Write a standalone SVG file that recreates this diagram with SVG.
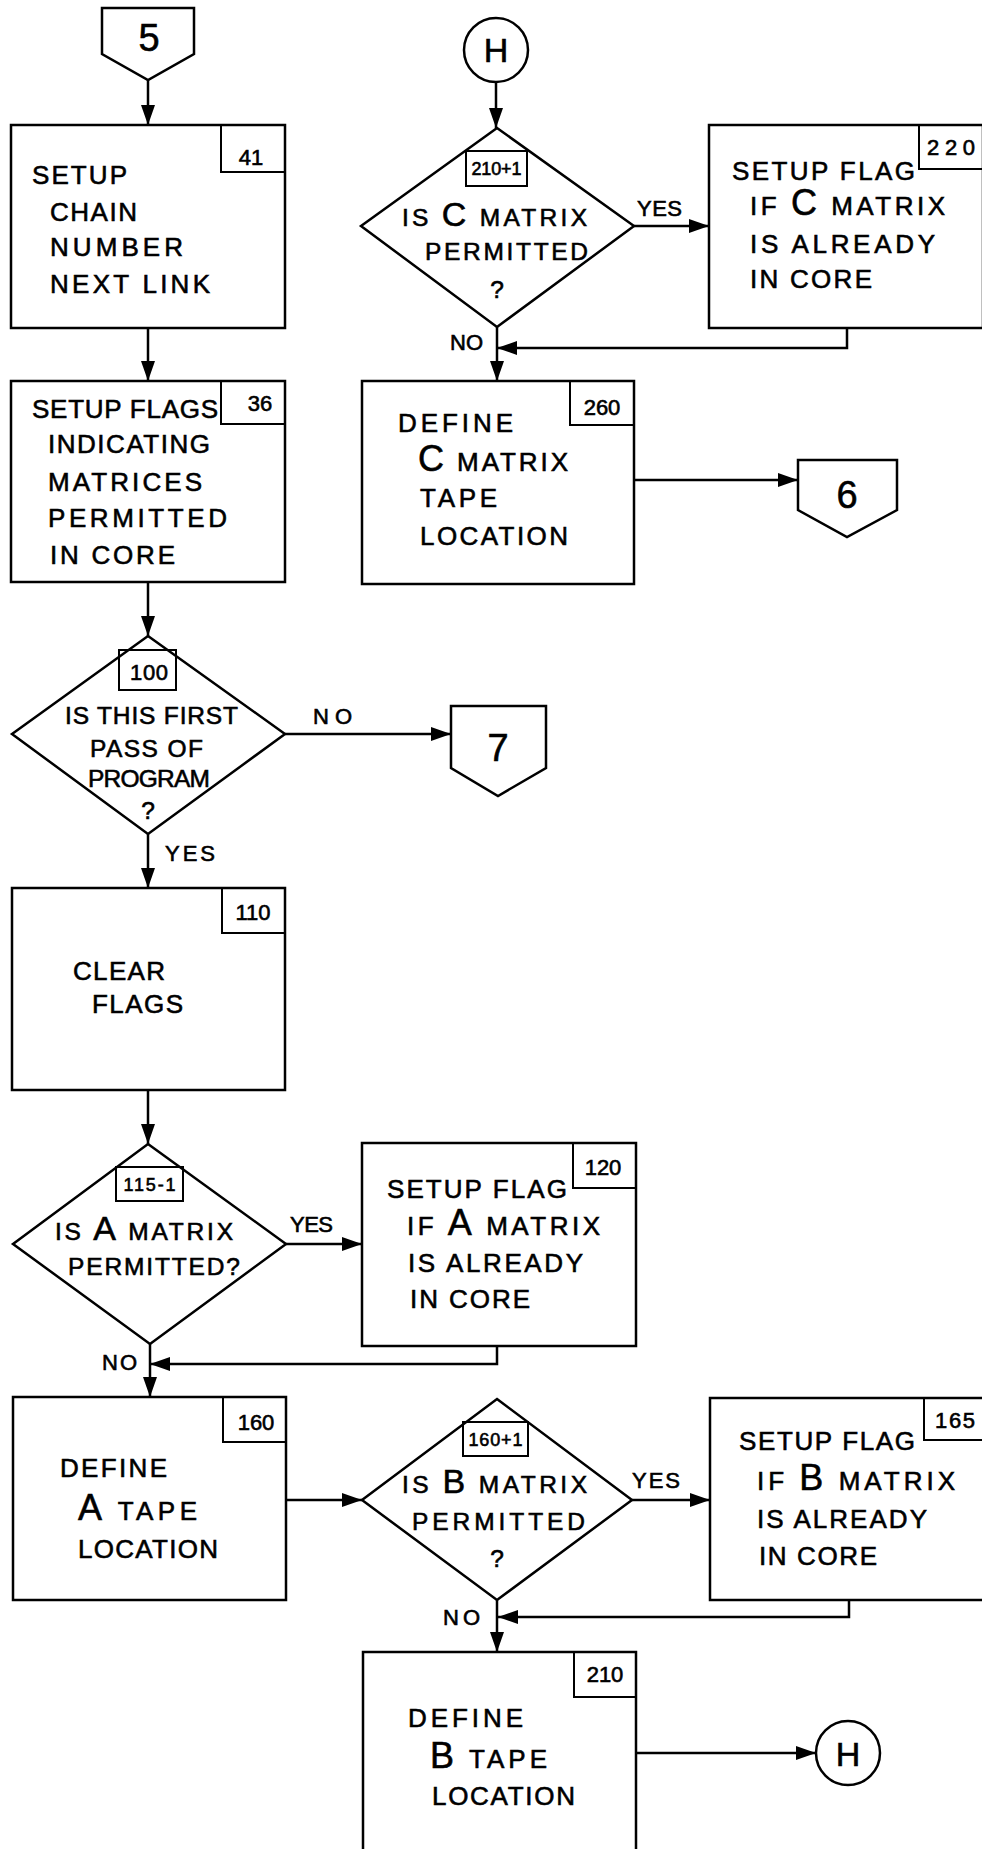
<svg xmlns="http://www.w3.org/2000/svg" width="982" height="1849" viewBox="0 0 982 1849">
<style>
.b{fill:none;stroke:#000;stroke-width:2.5}
.n{fill:none;stroke:#000;stroke-width:2}
text{font-family:"Liberation Sans",Arial,sans-serif;font-size:26px;fill:#000;stroke:#000;stroke-width:0.6}
.d{font-size:24.5px}
.yn{font-size:22px}
.num{font-size:22px;text-anchor:middle}
.sn{font-size:18px}
.big{font-size:36px}
.bigd{font-size:34px}
.con{font-size:38px;text-anchor:middle}
.m{text-anchor:middle}
.c{fill:none;stroke:#000;stroke-width:2.5;marker-end:url(#ah)}
</style>
<defs>
<marker id="ah" markerUnits="userSpaceOnUse" markerWidth="20" markerHeight="14" refX="20" refY="7" orient="auto"><path d="M0,0 L20,7 L0,14 z" fill="#000"/></marker>
</defs>
<rect x="0" y="0" width="982" height="1849" fill="#fff"/>

<g id="connectors">
<path class="c" d="M148,80 V125"/>
<path class="c" d="M148,328 V381"/>
<path class="c" d="M148,582 V636"/>
<path class="c" d="M285,734 H451"/>
<path class="c" d="M148,834 V888"/>
<path class="c" d="M148,1090 V1144"/>
<path class="c" d="M286,1244 H362"/>
<path class="c" d="M497,1346 V1364 H150"/>
<path class="c" d="M150,1344 V1397"/>
<path class="c" d="M286,1500 H362"/>
<path class="c" d="M632,1500 H710"/>
<path class="c" d="M849,1600 V1617 H498"/>
<path class="c" d="M497,1600 V1652"/>
<path class="c" d="M636,1753 H816"/>
<path class="c" d="M496,82 V128"/>
<path class="c" d="M634,226 H709"/>
<path class="c" d="M847,328 V348 H497"/>
<path class="c" d="M497,327 V381"/>
<path class="c" d="M634,480 H798"/>
<text class="yn" x="313" y="724" textLength="39">NO</text>
<text class="yn" x="165" y="861" textLength="50">YES</text>
<text class="yn" x="290" y="1232" textLength="43">YES</text>
<text class="yn" x="102" y="1370" textLength="35">NO</text>
<text class="yn" x="632" y="1488" textLength="48">YES</text>
<text class="yn" x="443" y="1625" textLength="37">NO</text>
<text class="yn" x="637" y="216" textLength="45">YES</text>
<text class="yn" x="450" y="350" textLength="33">NO</text>
</g>

<g id="conn5">
<polygon class="b" points="102,8 194,8 194,54 148,80 102,54"/>
<text class="con" x="149" y="51">5</text>
</g>

<g id="box41">
<rect class="b" x="11" y="125" width="274" height="203"/>
<rect class="n" x="221" y="125" width="64" height="47"/>
<text class="num" x="251" y="165">41</text>
<text x="32" y="184" textLength="95">SETUP</text>
<text x="50" y="221" textLength="87">CHAIN</text>
<text x="50" y="256" textLength="133">NUMBER</text>
<text x="50" y="293" textLength="160">NEXT LINK</text>
</g>

<g id="box36">
<rect class="b" x="11" y="381" width="274" height="201"/>
<rect class="n" x="221" y="381" width="64" height="43"/>
<text class="num" x="260" y="411">36</text>
<text x="32" y="418" textLength="186">SETUP FLAGS</text>
<text x="48" y="453" textLength="162">INDICATING</text>
<text x="48" y="491" textLength="154">MATRICES</text>
<text x="48" y="527" textLength="179">PERMITTED</text>
<text x="50" y="564" textLength="125">IN CORE</text>
</g>

<g id="dec100">
<polygon class="b" points="148,636 285,734 148,834 12,734"/>
<rect class="n" x="119" y="650" width="57" height="40"/>
<text class="num" x="149" y="680" textLength="38">100</text>
<text class="d" x="65" y="724" textLength="173">IS THIS FIRST</text>
<text class="d" x="90" y="757" textLength="113">PASS OF</text>
<text class="d" x="88" y="787" textLength="122">PROGRAM</text>
<text class="d m" x="148" y="819">?</text>
</g>

<g id="conn7">
<polygon class="b" points="451,706 546,706 546,768 498,796 451,768"/>
<text class="con" x="498" y="761">7</text>
</g>

<g id="box110">
<rect class="b" x="12" y="888" width="273" height="202"/>
<rect class="n" x="222" y="888" width="63" height="45"/>
<text class="num" x="253" y="920">110</text>
<text x="73" y="980" textLength="92">CLEAR</text>
<text x="92" y="1013" textLength="91">FLAGS</text>
</g>

<g id="dec115">
<polygon class="b" points="148,1144 286,1244 150,1344 13,1244"/>
<rect class="n" x="116" y="1167" width="67" height="34"/>
<text class="num sn" x="149.5" y="1191" textLength="52">115-1</text>
<text class="d" x="55" y="1240" textLength="178">IS <tspan class="bigd">A</tspan> MATRIX</text>
<text class="d" x="68" y="1275" textLength="172">PERMITTED?</text>
</g>

<g id="box120">
<rect class="b" x="362" y="1143" width="274" height="203"/>
<rect class="n" x="573" y="1143" width="63" height="45"/>
<text class="num" x="603" y="1175">120</text>
<text x="387" y="1198" textLength="180">SETUP FLAG</text>
<text x="407" y="1235" textLength="193">IF <tspan class="big">A</tspan> MATRIX</text>
<text x="408" y="1272" textLength="175">IS ALREADY</text>
<text x="410" y="1308" textLength="120">IN CORE</text>
</g>

<g id="box160">
<rect class="b" x="13" y="1397" width="273" height="203"/>
<rect class="n" x="223" y="1397" width="63" height="45"/>
<text class="num" x="256" y="1430">160</text>
<text x="60" y="1477" textLength="107">DEFINE</text>
<text x="78" y="1520" textLength="119"><tspan class="big">A</tspan> TAPE</text>
<text x="78" y="1558" textLength="140">LOCATION</text>
</g>

<g id="dec160">
<polygon class="b" points="497,1399 632,1500 497,1600 362,1500"/>
<rect class="n" x="463" y="1422" width="65" height="34"/>
<text class="num sn" x="495.5" y="1446" textLength="54">160+1</text>
<text class="d" x="402" y="1493" textLength="185">IS <tspan class="bigd">B</tspan> MATRIX</text>
<text class="d" x="412" y="1530" textLength="173">PERMITTED</text>
<text class="d m" x="497" y="1567">?</text>
</g>

<g id="box165">
<rect class="b" x="710" y="1398" width="274" height="202"/>
<rect class="n" x="924" y="1398" width="60" height="42"/>
<text x="935" y="1428" style="font-size:22px" textLength="40">165</text>
<text x="739" y="1450" textLength="176">SETUP FLAG</text>
<text x="757" y="1490" textLength="198">IF <tspan class="big">B</tspan> MATRIX</text>
<text x="757" y="1528" textLength="170">IS ALREADY</text>
<text x="759" y="1565" textLength="118">IN CORE</text>
</g>

<g id="box210">
<rect class="b" x="363" y="1652" width="273" height="210"/>
<rect class="n" x="574" y="1652" width="62" height="45"/>
<text class="num" x="605" y="1682">210</text>
<text x="408" y="1727" textLength="115">DEFINE</text>
<text x="430" y="1768" textLength="117"><tspan class="big">B</tspan> TAPE</text>
<text x="432" y="1805" textLength="143">LOCATION</text>
</g>

<g id="connHbottom">
<circle class="b" cx="848" cy="1753" r="32"/>
<text class="con" x="848" y="1766" style="font-size:34px">H</text>
</g>

<g id="connHtop">
<circle class="b" cx="496" cy="50" r="32"/>
<text class="con" x="496" y="62" style="font-size:34px">H</text>
</g>

<g id="dec210">
<polygon class="b" points="497,128 634,226 497,327 361,226"/>
<rect class="n" x="466" y="151" width="61" height="35"/>
<text class="num sn" x="496.5" y="175" textLength="50">210+1</text>
<text class="d" x="402" y="226" textLength="185">IS <tspan class="bigd">C</tspan> MATRIX</text>
<text class="d" x="425" y="260" textLength="163">PERMITTED</text>
<text class="d m" x="497" y="298">?</text>
</g>

<g id="box220">
<rect class="b" x="709" y="125" width="274" height="203"/>
<rect class="n" x="919" y="125" width="64" height="44"/>
<text x="927" y="155" style="font-size:22px" textLength="48">220</text>
<text x="732" y="180" textLength="183">SETUP FLAG</text>
<text x="750" y="215" textLength="195">IF <tspan class="big">C</tspan> MATRIX</text>
<text x="750" y="253" textLength="185">IS ALREADY</text>
<text x="750" y="288" textLength="122">IN CORE</text>
</g>

<g id="box260">
<rect class="b" x="362" y="381" width="272" height="203"/>
<rect class="n" x="570" y="381" width="64" height="44"/>
<text class="num" x="602" y="415">260</text>
<text x="398" y="432" textLength="115">DEFINE</text>
<text x="418" y="471" textLength="150"><tspan class="big">C</tspan> MATRIX</text>
<text x="420" y="507" textLength="77">TAPE</text>
<text x="420" y="545" textLength="148">LOCATION</text>
</g>

<g id="conn6">
<polygon class="b" points="798,460 897,460 897,510 847,537 798,510"/>
<text class="con" x="847" y="508">6</text>
</g>
</svg>
